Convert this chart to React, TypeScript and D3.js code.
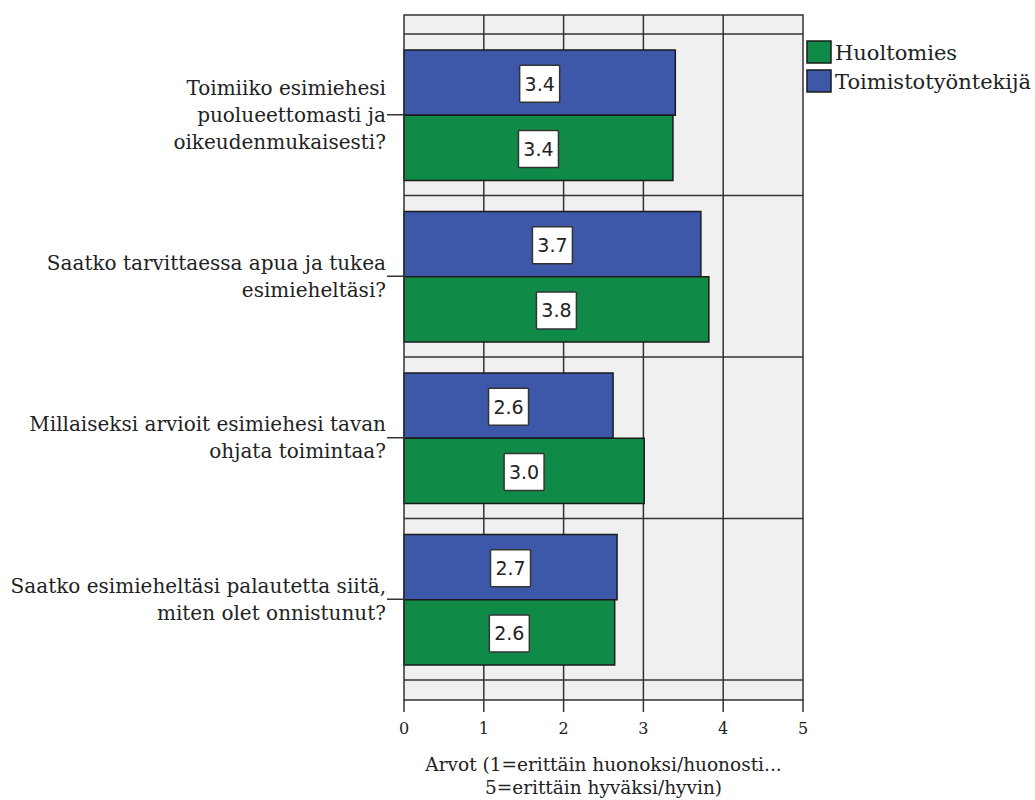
import React from "react";
import * as d3 from "d3";

const categories: string[][] = [
  ["Toimiiko esimiehesi", "puolueettomasti ja", "oikeudenmukaisesti?"],
  ["Saatko tarvittaessa apua ja tukea", "esimieheltäsi?"],
  ["Millaiseksi arvioit esimiehesi tavan", "ohjata toimintaa?"],
  ["Saatko esimieheltäsi palautetta siitä,", "miten olet onnistunut?"],
];
const seriesNames = ["Toimistotyöntekijä", "Huoltomies"];
const toimistoValues = [3.4, 3.72, 2.62, 2.67];
const huoltoValues = [3.37, 3.82, 3.01, 2.64];
const xTicks = [0, 1, 2, 3, 4, 5];
const legendItems = ["Huoltomies", "Toimistotyöntekijä"];
const axisTitle = ["Arvot (1=erittäin huonoksi/huonosti...", "5=erittäin hyväksi/hyvin)"];

const COLORS: Record<string, string> = {
  Huoltomies: "#108b47",
  "Toimistotyöntekijä": "#3d57a9",
};

const SERIF = "'DejaVu Serif', serif";
const SANS = "'DejaVu Sans', sans-serif";
const INK = "#222";
const GRID = "#333";

export default function App() {
  const W = 1035;
  const H = 800;
  const plot = { left: 404, right: 803, top: 15, bottom: 700 };
  const x = d3.scaleLinear().domain([0, 5]).range([plot.left, plot.right]);
  const keys = categories.map((_, i) => String(i));
  const y = d3.scaleBand<string>().domain(keys).range([34, 680]).paddingInner(0).paddingOuter(0);
  const inner = d3.scaleBand<string>().domain(seriesNames).range([16, y.bandwidth() - 15]);

  const data = keys.map((k, i) => ({
    key: k,
    values: [
      { name: "Toimistotyöntekijä", v: toimistoValues[i] },
      { name: "Huoltomies", v: huoltoValues[i] },
    ],
  }));

  const boundaries = [...keys.map((k) => y(k)!), y(keys[keys.length - 1])! + y.bandwidth()];
  const lineH = 27;

  return (
    <div style={{ position: "absolute", left: 0, top: 0 }}>
      <svg width={W} height={H} style={{ display: "block", background: "#fff" }}>
        {/* plot background */}
        <rect x={plot.left} y={plot.top} width={plot.right - plot.left} height={plot.bottom - plot.top} fill="#f0f0f0" />
        {/* vertical grid */}
        {xTicks.slice(1, -1).map((t) => (
          <line key={"vg" + t} x1={x(t)} x2={x(t)} y1={plot.top} y2={plot.bottom} stroke={GRID} strokeWidth={1.5} />
        ))}
        {/* horizontal grid at category boundaries */}
        {boundaries.map((b, i) => (
          <line key={"hg" + i} x1={plot.left} x2={plot.right} y1={b} y2={b} stroke={GRID} strokeWidth={1.5} />
        ))}
        {/* bars */}
        {data.map((d) =>
          d.values.map((s) => (
            <rect
              key={d.key + s.name}
              x={x(0)}
              y={y(d.key)! + inner(s.name)!}
              width={x(s.v) - x(0)}
              height={inner.bandwidth()}
              fill={COLORS[s.name]}
              stroke="#1a1a1a"
              strokeWidth={1.5}
            />
          ))
        )}
        {/* value labels */}
        {data.map((d) =>
          d.values.map((s) => {
            const cx = (x(0) + x(s.v)) / 2;
            const cy = y(d.key)! + inner(s.name)! + inner.bandwidth() / 2 + 1;
            return (
              <g key={"lab" + d.key + s.name}>
                <rect x={cx - 20} y={cy - 18.5} width={40} height={37} fill="#fff" stroke="#333" strokeWidth={1.5} rx={1} />
                <text x={cx} y={cy} textAnchor="middle" dominantBaseline="central" fontFamily={SANS} fontSize={19} fill={INK}>
                  {s.v.toFixed(1)}
                </text>
              </g>
            );
          })
        )}
        {/* plot frame */}
        <rect x={plot.left} y={plot.top} width={plot.right - plot.left} height={plot.bottom - plot.top} fill="none" stroke={GRID} strokeWidth={1.5} />
        {/* x ticks */}
        {xTicks.map((t) => (
          <g key={"xt" + t}>
            <line x1={x(t)} x2={x(t)} y1={plot.bottom} y2={plot.bottom + 12} stroke={GRID} strokeWidth={1.5} />
            <text x={x(t)} y={734} textAnchor="middle" fontFamily={SERIF} fontSize={16} fill={INK}>
              {t}
            </text>
          </g>
        ))}
        {/* category ticks and labels */}
        {data.map((d, i) => {
          const cy = y(d.key)! + y.bandwidth() / 2;
          const lines = categories[i];
          const startY = cy - ((lines.length - 1) * lineH) / 2;
          return (
            <g key={"cat" + d.key}>
              <line x1={plot.left - 17} x2={plot.left} y1={cy} y2={cy} stroke={GRID} strokeWidth={1.5} />
              <text textAnchor="end" fontFamily={SERIF} fontSize={20} fill={INK}>
                {lines.map((l, j) => (
                  <tspan key={j} x={386} y={startY + j * lineH} dominantBaseline="central">
                    {l}
                  </tspan>
                ))}
              </text>
            </g>
          );
        })}
        {/* axis title */}
        {axisTitle.map((l, j) => (
          <text key={"at" + j} x={(plot.left + plot.right) / 2} y={771 + j * 23} textAnchor="middle" fontFamily={SERIF} fontSize={18.5} fill={INK}>
            {l}
          </text>
        ))}
        {/* legend */}
        {legendItems.map((name, i) => (
          <g key={"lg" + name} transform={`translate(807, ${41 + i * 29})`}>
            <rect x={0} y={0} width={24} height={22} fill={COLORS[name]} stroke="#1a1a1a" strokeWidth={1.5} />
            <text x={28} y={12} dominantBaseline="central" fontFamily={SERIF} fontSize={21} fill={INK}>
              {name}
            </text>
          </g>
        ))}
      </svg>
    </div>
  );
}
